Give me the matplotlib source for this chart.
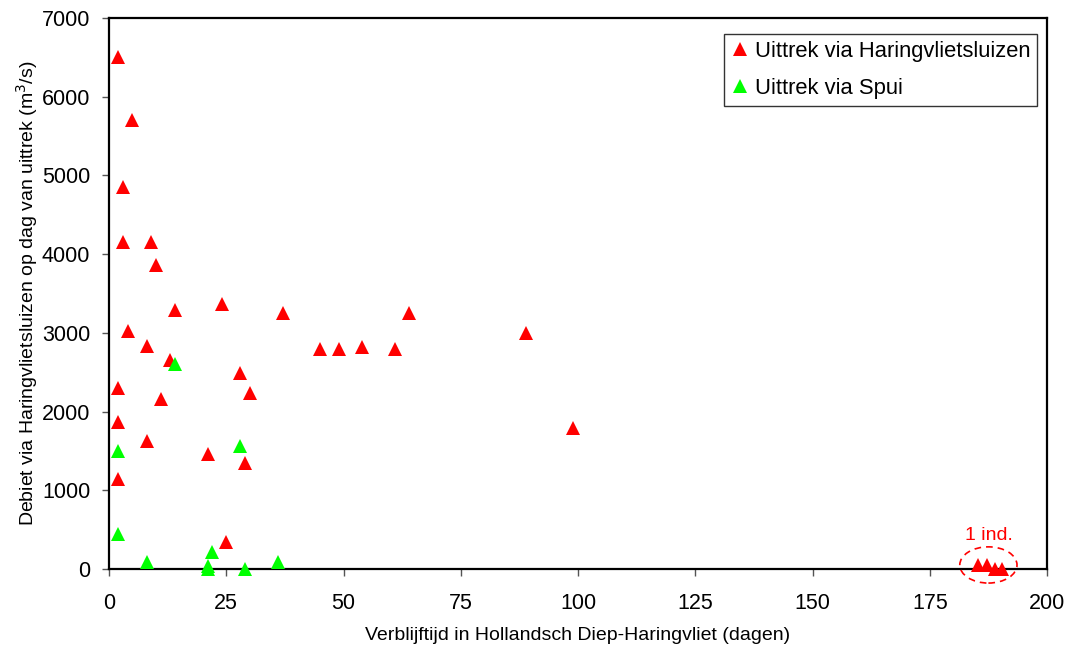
import matplotlib
matplotlib.use("Agg")
import matplotlib.pyplot as plt
from matplotlib.patches import Ellipse

# Uittrek via Haringvlietsluizen (verblijftijd in dagen, debiet m3/s)
red_x = [2, 5, 3, 3, 9, 10, 24, 14, 37, 64, 89, 4, 8, 45, 49, 54, 61, 13, 28, 2,
         30, 11, 2, 8, 99, 21, 29, 2, 25, 185.3, 187.2, 188.9, 190.4]
red_y = [6500, 5700, 4850, 4150, 4150, 3860, 3370, 3290, 3250, 3250, 3000, 3020,
         2830, 2800, 2800, 2820, 2800, 2650, 2490, 2300, 2240, 2160, 1870, 1620,
         1790, 1460, 1350, 1140, 340, 50, 50, 0, 0]

# Uittrek via Spui
green_x = [14, 2, 28, 2, 8, 22, 21, 21, 29, 36]
green_y = [2600, 1500, 1560, 440, 90, 210, 40, 0, 0, 90]

RED = "#ff0000"
GREEN = "#00ff00"

plt.rcParams["font.family"] = ["Liberation Sans", "DejaVu Sans"]

fig = plt.figure(figsize=(10.72, 6.51), dpi=100)
ax = fig.add_axes([0.1017, 0.126, 0.875, 0.8464])

ax.plot(red_x, red_y, "^", color=RED, markersize=9.5, markeredgewidth=0,
        linestyle="none", label="Uittrek via Haringvlietsluizen", clip_on=False, zorder=3)
ax.plot(green_x, green_y, "^", color=GREEN, markersize=9.5, markeredgewidth=0,
        linestyle="none", label="Uittrek via Spui", clip_on=False, zorder=3)

# groep van één individu rechtsonder
ax.add_patch(Ellipse((187.5, 51), 12.2, 460, fill=False, edgecolor=RED,
                     linestyle=(0, (4, 3)), linewidth=1.2, clip_on=False, zorder=4))
ax.text(187.6, 370, "1 ind.", color=RED, fontsize=14, ha="center", va="baseline")

ax.set_xlim(0, 200)
ax.set_ylim(0, 7000)
ax.set_xticks(range(0, 201, 25))
ax.set_yticks(range(0, 7001, 1000))
ax.tick_params(direction="out", length=5, width=1, colors="#555555",
               labelcolor="black", labelsize=15.5)
ax.tick_params(axis="x", pad=12)
ax.tick_params(axis="y", pad=8.5)

for s in ax.spines.values():
    s.set_linewidth(1.6)
    s.set_color("black")

ax.set_xlabel("Verblijftijd in Hollandsch Diep-Haringvliet (dagen)", fontsize=14, labelpad=10)
ax.set_ylabel("Debiet via Haringvlietsluizen op dag van uittrek (m$^3$/s)", fontsize=14, labelpad=1.5)

leg = ax.legend(loc="upper right", bbox_to_anchor=(0.9893, 0.971), fontsize=15.8,
                frameon=True, fancybox=False, edgecolor="black", handletextpad=0.25,
                handlelength=0.86, borderpad=0.3, borderaxespad=0, labelspacing=0.75,
                markerscale=1.05)
leg.get_frame().set_linewidth(1.0)

fig.savefig("out.png", dpi=100, facecolor="white")
